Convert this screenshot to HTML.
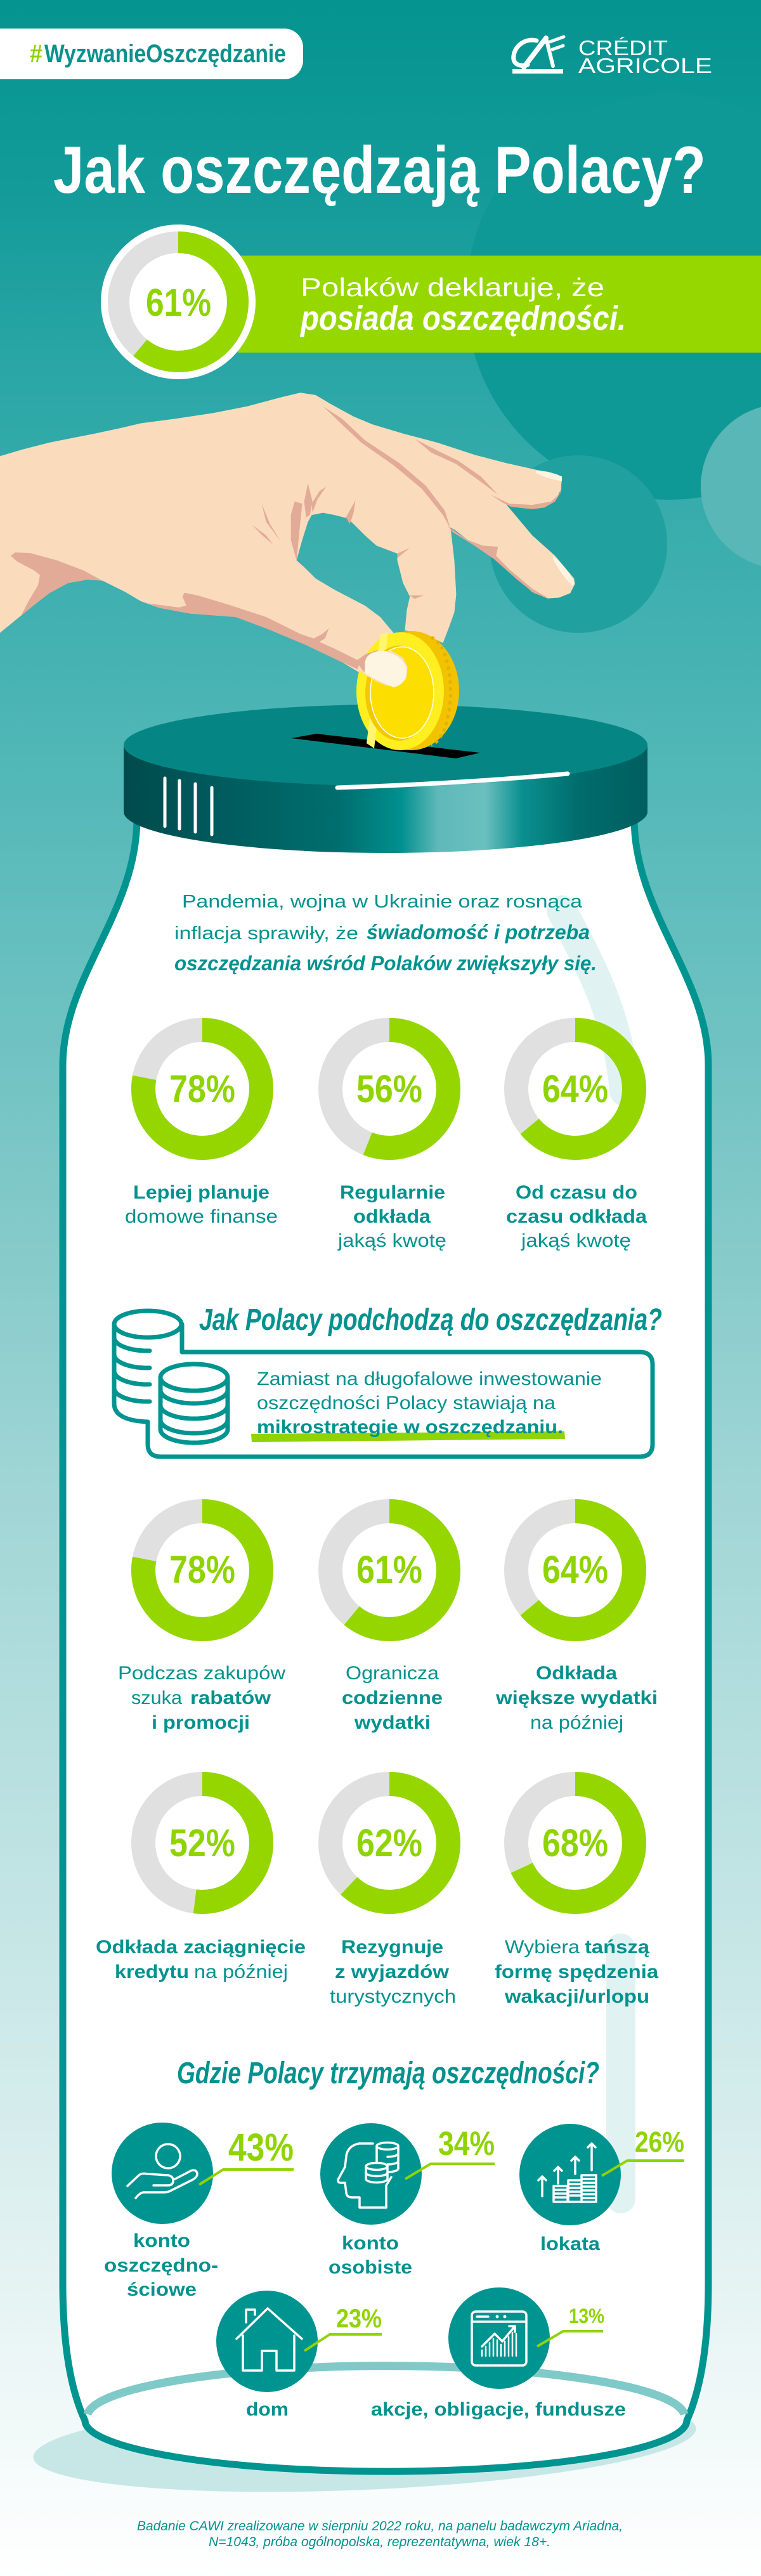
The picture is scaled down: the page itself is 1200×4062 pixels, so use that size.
<!DOCTYPE html>
<html><head><meta charset="utf-8"><style>html,body{margin:0;padding:0;background:#fff}svg{display:block}</style></head>
<body>
<svg width="1200" height="4062" viewBox="0 0 1200 4062" xmlns="http://www.w3.org/2000/svg" font-family="'Liberation Sans', Arial, sans-serif">
<defs>
<linearGradient id="bg" x1="0" y1="0" x2="0" y2="4062" gradientUnits="userSpaceOnUse">
<stop offset="0" stop-color="#059490"/><stop offset="0.074" stop-color="#139b99"/><stop offset="0.143" stop-color="#2aa6a6"/><stop offset="0.271" stop-color="#4ab4b4"/><stop offset="0.34" stop-color="#5ebcbc"/><stop offset="0.492" stop-color="#88cbcb"/><stop offset="0.581" stop-color="#a1d6d6"/><stop offset="0.775" stop-color="#cbe8e8"/><stop offset="0.886" stop-color="#e5f3f3"/><stop offset="1" stop-color="#ffffff"/>
</linearGradient>
<linearGradient id="lid" x1="195" y1="0" x2="1021" y2="0" gradientUnits="userSpaceOnUse">
<stop offset="0" stop-color="#004a4c"/><stop offset="0.17" stop-color="#005a5c"/><stop offset="0.41" stop-color="#006e6e"/><stop offset="0.53" stop-color="#00908e"/><stop offset="0.6" stop-color="#5fb9b9"/><stop offset="0.69" stop-color="#6bbfbf"/><stop offset="0.76" stop-color="#0a908f"/><stop offset="0.87" stop-color="#006c6c"/><stop offset="1" stop-color="#005e60"/>
</linearGradient>
</defs>
<rect width="1200" height="4062" fill="url(#bg)"/>
<circle cx="1055" cy="468" r="320" fill="#0e9896"/>
<circle cx="912" cy="858" r="140" fill="#20a1a0"/>
<circle cx="1235" cy="767" r="130" fill="#5ab7b7"/>
<rect x="-40" y="45" width="518" height="80" rx="30" fill="#fff"/>
<text x="47" y="98" font-size="40" font-weight="bold" fill="#8fd400" textLength="20" lengthAdjust="spacingAndGlyphs">#</text>
<text x="70" y="98" font-size="40" font-weight="bold" fill="#0c918d" textLength="381" lengthAdjust="spacingAndGlyphs">WyzwanieOszczędzanie</text>
<g fill="none" stroke="#fff" stroke-linecap="round">
<path d="M846,64 C828,60 812,72 810,88 C808,100 818,106 832,102" stroke-width="7"/>
<path d="M826,106 L861,60" stroke-width="8"/>
<path d="M861,60 L872,104" stroke-width="6"/>
<path d="M867,66 L889,58 M871,78 L888,72" stroke-width="5"/>
</g>
<rect x="808" y="109" width="80" height="7" fill="#fff"/>
<text x="912" y="87" font-size="33" fill="#fff" textLength="141" lengthAdjust="spacingAndGlyphs">CRÉDIT</text>
<text x="912" y="115" font-size="33" fill="#fff" textLength="211" lengthAdjust="spacingAndGlyphs">AGRICOLE</text>
<text x="84" y="304" font-size="105" font-weight="bold" fill="#fff" textLength="1029" lengthAdjust="spacingAndGlyphs">Jak oszczędzają Polacy?</text>
<rect x="375" y="403" width="825" height="153" fill="#97d700"/>
<circle cx="281" cy="476" r="122" fill="#fff"/>
<circle cx="281" cy="476" r="94" fill="none" stroke="#e0e0e0" stroke-width="34"/>
<circle cx="281" cy="476" r="94" fill="none" stroke="#97d700" stroke-width="34" stroke-dasharray="360.3 1000" transform="rotate(-90 281 476)"/>
<text x="230" y="498" font-size="61" font-weight="bold" fill="#8fd400" textLength="103" lengthAdjust="spacingAndGlyphs">61%</text>
<text x="474" y="467" font-size="41" fill="#fff" textLength="479" lengthAdjust="spacingAndGlyphs">Polaków deklaruje, że</text>
<text x="474" y="520" font-size="54" font-style="italic" font-weight="bold" fill="#fff" textLength="513" lengthAdjust="spacingAndGlyphs">posiada oszczędności.</text>
<g transform="translate(0,580) scale(0.5995,0.35714)">
<path fill="#FADCBD" d="M0,390 L60,360 L130,330 L250,290 L320,265 L370,245 L460,225 L560,200 L650,170 L740,130 L790,110 L830,120 L870,160 L930,215 L980,250 L1060,290 L1150,330 L1250,385 L1330,420 L1410,450 L1465,470 L1478,490 L1475,540 L1460,585 L1430,615 L1400,622 L1350,612 L1330,600 L1400,740 L1460,830 L1510,930 L1512,955 L1500,995 L1470,1015 L1440,1018 L1400,990 L1360,930 L1300,840 L1245,780 L1200,720 L1185,705 L1195,850 L1200,1000 L1195,1080 L1180,1150 L1165,1215 L1110,1170 L1065,1160 L1070,1070 L1078,1010 L1060,950 L1045,850 L1045,820 L990,785 L960,740 L930,690 L915,665 L880,650 L850,640 L820,650 L810,680 L795,760 L780,850 L800,880 L830,930 L880,980 L960,1050 L1000,1100 L1040,1180 L1060,1240 L1070,1300 L1065,1370 L1040,1405 L1020,1405 L990,1385 L950,1350 L900,1300 L800,1220 L700,1150 L620,1100 L500,1085 L420,1060 L370,1030 L330,990 L270,940 L230,935 L180,950 L130,990 L80,1060 L0,1170 Z"/>
<g fill="#E2AB97">
<path d="M28,830 L40,815 L80,818 L150,850 L220,895 L270,940 L230,935 L180,950 L130,995 L80,1060 L55,1095 L75,1030 L100,960 L105,915 L90,895 L45,855 Z"/>
<path d="M390,1040 L470,1058 L490,1050 L480,1010 L485,993 L520,1005 L600,1045 L700,1100 L790,1175 L825,1195 L848,1175 L865,1150 L855,1195 L840,1210 L880,1240 L940,1290 L965,1260 L995,1245 L985,1265 L960,1300 L958,1345 L900,1300 L800,1220 L700,1150 L620,1100 L500,1085 L420,1060 Z"/>
<path d="M1290,560 L1340,600 L1400,605 L1450,590 L1472,555 L1478,520 L1475,550 L1460,590 L1432,617 L1400,624 L1345,614 L1325,598 Z"/>
<path d="M1178,700 L1230,760 L1270,785 L1310,790 L1305,830 L1340,890 L1400,975 L1445,1020 L1405,995 L1360,935 L1300,845 L1245,782 L1190,725 Z"/>
<path d="M850,170 L900,225 L960,320 L1050,420 L1120,520 L1170,630 L1185,710 L1165,650 L1110,535 L1035,430 L950,330 L890,235 Z"/>
<path d="M1092,315 L1150,365 L1205,410 L1265,480 L1310,560 L1270,510 L1200,425 L1135,375 Z"/>
<path d="M810,510 L822,590 L815,650 L805,660 L800,590 Z M858,525 L835,580 L822,640 L820,600 L840,545 Z M688,598 L700,680 L740,770 L710,690 Z M662,692 L700,740 L718,780 L690,740 Z M775,590 L795,600 L790,680 L780,850 L765,760 L765,650 Z M935,585 L930,640 L920,690 L910,660 Z M1045,820 L1078,795 L1045,840 Z M1078,1005 L1115,1005 L1090,1020 Z"/>
</g>
<g fill="#FEF4E2">
<path d="M1410,455 Q1440,452 1478,480 L1478,500 Q1440,490 1410,465 Z"/>
<path d="M1455,830 Q1490,880 1512,950 L1505,962 Q1475,910 1455,845 Z"/>
</g>
</g>
<ellipse cx="575" cy="3852" rx="523" ry="74" fill="#c7e7e7" transform="rotate(-2.5 575 3852)"/>
<path d="M216,1290 C216,1440 99,1540 99,1680 L99,3600 C99,3700 112,3770 134,3817 A474,80 0 0 0 1083,3817 C1104,3770 1117,3700 1117,3600 L1117,1680 C1117,1540 1000,1440 1000,1290 Z" fill="#fff" stroke="#009490" stroke-width="11"/>
<path d="M138,3807 A471,80 0 0 1 1079,3807" fill="none" stroke="#80c9c9" stroke-width="13"/>
<path d="M886,1436 C930,1520 975,1600 985,1720" fill="none" stroke="#e0f2f2" stroke-width="48" stroke-linecap="round"/>
<rect x="956" y="3049" width="46" height="441" rx="23" fill="#e0f2f2"/>
<path d="M195,1175 L195,1280 A413,65 0 0 0 1021,1280 L1021,1175 Z" fill="url(#lid)"/>
<ellipse cx="608" cy="1175" rx="413" ry="64" fill="#058684"/>
<g stroke="#fff" stroke-width="5" stroke-linecap="round">
<line x1="260" y1="1227" x2="260" y2="1303"/><line x1="283" y1="1231" x2="283" y2="1307"/><line x1="308" y1="1236" x2="308" y2="1312"/><line x1="334" y1="1242" x2="334" y2="1316"/>
</g>
<path d="M532,1242 Q720,1236 895,1220" fill="none" stroke="#fff" stroke-width="7" stroke-linecap="round"/>
<polygon points="459,1164 499,1157 757,1187 719,1196" fill="#000"/>
<ellipse cx="648" cy="1089" rx="76" ry="94" fill="#F2C300"/>
<path d="M680,1005 A36,86 0 0 1 680,1175" fill="none" stroke="#E6B000" stroke-width="5" stroke-dasharray="5 6"/>
<ellipse cx="631" cy="1090" rx="69" ry="93" fill="#FFEE20"/>
<path d="M600,1000 L612,998 L590,1180 L578,1172 Z" fill="#FFF66E"/>
<ellipse cx="629" cy="1093" rx="53" ry="75" fill="#F4C800"/>
<ellipse cx="634" cy="1092" rx="50" ry="72" fill="#FCDF00" stroke="#fff" stroke-width="1.5"/>
<g transform="translate(0,580) scale(0.5995,0.35714)">
<path fill="#FADCBD" d="M940,1330 L950,1290 L990,1250 L1030,1250 L1060,1280 L1072,1320 L1068,1375 L1045,1405 L1020,1405 L990,1385 L960,1355 Z"/>
<path fill="#E2AB97" d="M938,1300 L965,1262 L995,1245 L985,1265 L962,1300 L958,1345 Z"/>
<path fill="#FEF4E2" d="M960,1300 Q965,1250 1010,1250 Q1060,1270 1070,1330 Q1070,1400 1035,1410 Q990,1380 960,1350 Z"/>
</g>
<g fill="#00928e">
<text x="287" y="1431" font-size="29" textLength="631" lengthAdjust="spacingAndGlyphs">Pandemia, wojna w Ukrainie oraz rosnąca</text>
<text x="275" y="1481" font-size="29" textLength="290" lengthAdjust="spacingAndGlyphs">inflacja sprawiły, że</text>
<text x="578" y="1481" font-size="32" font-style="italic" font-weight="bold" textLength="352" lengthAdjust="spacingAndGlyphs">świadomość i potrzeba</text>
<text x="275" y="1530" font-size="32" font-style="italic" font-weight="bold" textLength="666" lengthAdjust="spacingAndGlyphs">oszczędzania wśród Polaków zwiększyły się.</text>
</g>
<g fill="none" stroke-width="38">
<circle cx="319" cy="1717" r="93" stroke="#e0e0e0"/><circle cx="319" cy="1717" r="93" stroke="#95d600" stroke-dasharray="455.8 1000" transform="rotate(-90 319 1717)"/>
<circle cx="614" cy="1717" r="93" stroke="#e0e0e0"/><circle cx="614" cy="1717" r="93" stroke="#95d600" stroke-dasharray="327.2 1000" transform="rotate(-90 614 1717)"/>
<circle cx="907" cy="1717" r="93" stroke="#e0e0e0"/><circle cx="907" cy="1717" r="93" stroke="#95d600" stroke-dasharray="374 1000" transform="rotate(-90 907 1717)"/>
<circle cx="319" cy="2476" r="93" stroke="#e0e0e0"/><circle cx="319" cy="2476" r="93" stroke="#95d600" stroke-dasharray="455.8 1000" transform="rotate(-90 319 2476)"/>
<circle cx="614" cy="2476" r="93" stroke="#e0e0e0"/><circle cx="614" cy="2476" r="93" stroke="#95d600" stroke-dasharray="356.4 1000" transform="rotate(-90 614 2476)"/>
<circle cx="907" cy="2476" r="93" stroke="#e0e0e0"/><circle cx="907" cy="2476" r="93" stroke="#95d600" stroke-dasharray="374 1000" transform="rotate(-90 907 2476)"/>
<circle cx="319" cy="2906" r="93" stroke="#e0e0e0"/><circle cx="319" cy="2906" r="93" stroke="#95d600" stroke-dasharray="303.9 1000" transform="rotate(-90 319 2906)"/>
<circle cx="614" cy="2906" r="93" stroke="#e0e0e0"/><circle cx="614" cy="2906" r="93" stroke="#95d600" stroke-dasharray="362.3 1000" transform="rotate(-90 614 2906)"/>
<circle cx="907" cy="2906" r="93" stroke="#e0e0e0"/><circle cx="907" cy="2906" r="93" stroke="#95d600" stroke-dasharray="397.4 1000" transform="rotate(-90 907 2906)"/>
</g>
<g fill="#8fd400" font-size="61" font-weight="bold">
<text x="267" y="1738" textLength="104" lengthAdjust="spacingAndGlyphs">78%</text>
<text x="562" y="1738" textLength="104" lengthAdjust="spacingAndGlyphs">56%</text>
<text x="855" y="1738" textLength="104" lengthAdjust="spacingAndGlyphs">64%</text>
<text x="267" y="2496" textLength="104" lengthAdjust="spacingAndGlyphs">78%</text>
<text x="562" y="2496" textLength="104" lengthAdjust="spacingAndGlyphs">61%</text>
<text x="855" y="2496" textLength="104" lengthAdjust="spacingAndGlyphs">64%</text>
<text x="267" y="2927" textLength="104" lengthAdjust="spacingAndGlyphs">52%</text>
<text x="562" y="2927" textLength="104" lengthAdjust="spacingAndGlyphs">62%</text>
<text x="855" y="2927" textLength="104" lengthAdjust="spacingAndGlyphs">68%</text>
</g>
<g fill="#00928e" font-size="30">
<text x="210" y="1890" font-weight="bold" textLength="215" lengthAdjust="spacingAndGlyphs">Lepiej planuje</text>
<text x="197" y="1928" textLength="241" lengthAdjust="spacingAndGlyphs">domowe finanse</text>
<text x="536" y="1890" font-weight="bold" textLength="166" lengthAdjust="spacingAndGlyphs">Regularnie</text>
<text x="557" y="1928" font-weight="bold" textLength="122" lengthAdjust="spacingAndGlyphs">odkłada</text>
<text x="533" y="1966" textLength="171" lengthAdjust="spacingAndGlyphs">jakąś kwotę</text>
<text x="813" y="1890" font-weight="bold" textLength="192" lengthAdjust="spacingAndGlyphs">Od czasu do</text>
<text x="798" y="1928" font-weight="bold" textLength="222" lengthAdjust="spacingAndGlyphs">czasu odkłada</text>
<text x="822" y="1966" textLength="173" lengthAdjust="spacingAndGlyphs">jakąś kwotę</text>
<text x="186" y="2648" textLength="264" lengthAdjust="spacingAndGlyphs">Podczas zakupów</text>
<text x="207" y="2687" textLength="80" lengthAdjust="spacingAndGlyphs">szuka</text>
<text x="300" y="2687" font-weight="bold" textLength="127" lengthAdjust="spacingAndGlyphs">rabatów</text>
<text x="239" y="2726" font-weight="bold" textLength="155" lengthAdjust="spacingAndGlyphs">i promocji</text>
<text x="545" y="2648" textLength="147" lengthAdjust="spacingAndGlyphs">Ogranicza</text>
<text x="539" y="2687" font-weight="bold" textLength="159" lengthAdjust="spacingAndGlyphs">codzienne</text>
<text x="559" y="2726" font-weight="bold" textLength="120" lengthAdjust="spacingAndGlyphs">wydatki</text>
<text x="845" y="2648" font-weight="bold" textLength="128" lengthAdjust="spacingAndGlyphs">Odkłada</text>
<text x="782" y="2687" font-weight="bold" textLength="255" lengthAdjust="spacingAndGlyphs">większe wydatki</text>
<text x="836" y="2726" textLength="147" lengthAdjust="spacingAndGlyphs">na później</text>
<text x="151" y="3080" font-weight="bold" textLength="331" lengthAdjust="spacingAndGlyphs">Odkłada zaciągnięcie</text>
<text x="181" y="3119" font-weight="bold" textLength="117" lengthAdjust="spacingAndGlyphs">kredytu</text>
<text x="306" y="3119" textLength="148" lengthAdjust="spacingAndGlyphs">na później</text>
<text x="538" y="3080" font-weight="bold" textLength="161" lengthAdjust="spacingAndGlyphs">Rezygnuje</text>
<text x="528" y="3119" font-weight="bold" textLength="180" lengthAdjust="spacingAndGlyphs">z wyjazdów</text>
<text x="520" y="3158" textLength="199" lengthAdjust="spacingAndGlyphs">turystycznych</text>
<text x="796" y="3080" textLength="118" lengthAdjust="spacingAndGlyphs">Wybiera</text>
<text x="922" y="3080" font-weight="bold" textLength="102" lengthAdjust="spacingAndGlyphs">tańszą</text>
<text x="780" y="3119" font-weight="bold" textLength="258" lengthAdjust="spacingAndGlyphs">formę spędzenia</text>
<text x="796" y="3158" font-weight="bold" textLength="228" lengthAdjust="spacingAndGlyphs">wakacji/urlopu</text>
</g>
<text x="314" y="2097" font-size="48" font-style="italic" font-weight="bold" fill="#00928e" textLength="730" lengthAdjust="spacingAndGlyphs">Jak Polacy podchodzą do oszczędzania?</text>
<g fill="none" stroke="#009490" stroke-width="7" stroke-linecap="round">
<path d="M287,2132 L1009,2132 Q1029,2132 1029,2152 L1029,2277 Q1029,2297 1009,2297 L253,2297 Q233,2297 233,2277 L233,2242"/>
<path d="M287,2088 L287,2132"/>
<path d="M180,2088 L180,2215 Q182,2240 233,2242"/>
<ellipse cx="233" cy="2088" rx="53" ry="21"/>
<path d="M180,2109 A53,21 0 0 0 236,2130 M180,2136 A53,21 0 0 0 236,2157 M180,2162 A53,21 0 0 0 236,2183 M180,2189 A53,21 0 0 0 236,2210"/>
<path d="M253,2172 L253,2254 A53,21 0 0 0 359,2254 L359,2172" fill="#fff"/>
<ellipse cx="306" cy="2172" rx="53" ry="21" fill="#fff"/>
<path d="M253,2192 A53,21 0 0 0 359,2192 M253,2216 A53,21 0 0 0 359,2216 M253,2239 A53,21 0 0 0 359,2239"/>
</g>
<polygon points="396,2261 890,2257 891,2269 397,2274" fill="#8fd400"/>
<g fill="#00928e" font-size="30">
<text x="405" y="2184" textLength="544" lengthAdjust="spacingAndGlyphs">Zamiast na długofalowe inwestowanie</text>
<text x="405" y="2222" textLength="471" lengthAdjust="spacingAndGlyphs">oszczędności Polacy stawiają na</text>
<text x="405" y="2260" font-weight="bold" textLength="483" lengthAdjust="spacingAndGlyphs">mikrostrategie w oszczędzaniu.</text>
</g>
<text x="279" y="3285" font-size="48" font-style="italic" font-weight="bold" fill="#00928e" textLength="666" lengthAdjust="spacingAndGlyphs">Gdzie Polacy trzymają oszczędności?</text>
<g fill="#009491">
<circle cx="256" cy="3427" r="80"/><circle cx="585" cy="3428" r="80"/><circle cx="899" cy="3429" r="80"/><circle cx="421" cy="3692" r="80"/><circle cx="787" cy="3687" r="80"/>
</g>
<g fill="none" stroke="#fff" stroke-width="3.5" stroke-linecap="round" stroke-linejoin="round">
<circle cx="265" cy="3400" r="19"/>
<path d="M201,3447 L219,3430 Q224,3426 232,3428 L265,3430 Q274,3432 273,3440 Q272,3446 265,3446 L242,3446 M276,3436 L301,3423 Q310,3420 311,3428 Q311,3433 304,3437 L268,3455 Q264,3457 258,3457 L226,3457 Q220,3458 214,3466"/>
<path d="M588,3380 L566,3380 Q548,3384 546,3400 L544,3417 L533,3437 Q532,3442 538,3442 L544,3442 L546,3458 Q547,3465 555,3465 L567,3465 L567,3481 L609,3481 L609,3446 L617,3433"/>
<ellipse cx="611" cy="3384" rx="17" ry="5.5" fill="#009491"/>
<path d="M594,3384 L594,3420 M628,3384 L628,3420 A17,5.5 0 0 1 611,3425 M628,3396 A17,5.5 0 0 1 611,3401 M628,3408 A17,5.5 0 0 1 611,3413" />
<path d="M577,3416 L577,3436 A17,5.5 0 0 0 611,3436 L611,3416" fill="#009491"/>
<ellipse cx="594" cy="3416" rx="17" ry="5.5" fill="#009491"/>
<path d="M577,3426 A17,5.5 0 0 0 611,3426"/>
<path d="M855,3463 L855,3432 M849,3438 L855,3432 L861,3438 M880,3443 L880,3417 M874,3423 L880,3417 L886,3423 M907,3428 L907,3401 M901,3407 L907,3401 L913,3407 M933,3422 L933,3380 M927,3386 L933,3380 L939,3386"/>
<path d="M873,3447 L873,3472 L895,3472 L895,3447 Z M873,3453 L895,3453 M873,3459 L895,3459 M873,3465 L895,3465" fill="#009491"/>
<path d="M896,3438 L896,3472 L918,3472 L918,3438 Z M896,3444 L918,3444 M896,3450 L918,3450 M896,3456 L918,3456 M896,3462 L918,3462" fill="#009491"/>
<path d="M917,3430 L917,3472 L940,3472 L940,3430 Z M917,3436 L940,3436 M917,3442 L940,3442 M917,3448 L940,3448 M917,3454 L940,3454 M917,3460 L940,3460 M917,3466 L940,3466" fill="#009491"/>
<path d="M373,3688 L422,3640 L476,3688 M383,3683 L383,3738 L413,3738 L413,3707 L436,3707 L436,3738 L464,3738 L464,3683 M388,3662 L388,3642 L402,3642 L402,3650"/>
<rect x="744" y="3645" width="86" height="85" rx="6"/>
<path d="M744,3661 L830,3661 M752,3653 L770,3653 M760,3700 L780,3680 L792,3692 L812,3668 M803,3668 L812,3668 L812,3677"/>
<path d="M760,3706 L760,3715 M766,3700 L766,3715 M772,3694 L772,3715 M778,3688 L778,3715 M784,3690 L784,3715 M790,3697 L790,3715 M796,3692 L796,3715 M802,3685 L802,3715 M808,3678 L808,3715 M814,3680 L814,3715" stroke-width="2.5"/>
</g>
<circle cx="784" cy="3653" r="2.5" fill="#fff"/><circle cx="796" cy="3653" r="2.5" fill="#fff"/>
<g fill="none" stroke="#8fd400" stroke-width="4">
<path d="M314,3445 L352,3421 L463,3421"/>
<path d="M639,3436 L679,3412 L780,3412"/>
<path d="M949,3431 L989,3407 L1079,3407"/>
<path d="M480,3707 L520,3681 L602,3681"/>
<path d="M847,3700 L888,3676 L951,3676"/>
</g>
<g fill="#8fd400" font-weight="bold">
<text x="360" y="3407" font-size="61" textLength="103" lengthAdjust="spacingAndGlyphs">43%</text>
<text x="691" y="3398" font-size="53" textLength="89" lengthAdjust="spacingAndGlyphs">34%</text>
<text x="1001" y="3393" font-size="45" textLength="78" lengthAdjust="spacingAndGlyphs">26%</text>
<text x="530" y="3670" font-size="42" textLength="72" lengthAdjust="spacingAndGlyphs">23%</text>
<text x="897" y="3663" font-size="32" textLength="56" lengthAdjust="spacingAndGlyphs">13%</text>
</g>
<g fill="#00928e" font-size="30" font-weight="bold">
<text x="210" y="3543" textLength="90" lengthAdjust="spacingAndGlyphs">konto</text>
<text x="164" y="3582" textLength="180" lengthAdjust="spacingAndGlyphs">oszczędno-</text>
<text x="200" y="3620" textLength="110" lengthAdjust="spacingAndGlyphs">ściowe</text>
<text x="539" y="3547" textLength="90" lengthAdjust="spacingAndGlyphs">konto</text>
<text x="518" y="3585" textLength="132" lengthAdjust="spacingAndGlyphs">osobiste</text>
<text x="852" y="3548" textLength="94" lengthAdjust="spacingAndGlyphs">lokata</text>
<text x="388" y="3809" textLength="67" lengthAdjust="spacingAndGlyphs">dom</text>
<text x="585" y="3809" textLength="402" lengthAdjust="spacingAndGlyphs">akcje, obligacje, fundusze</text>
</g>
<g fill="#00928e" font-size="21" font-style="italic">
<text x="216" y="3990" textLength="766" lengthAdjust="spacingAndGlyphs">Badanie CAWI zrealizowane w sierpniu 2022 roku, na panelu badawczym Ariadna,</text>
<text x="329" y="4015" textLength="539" lengthAdjust="spacingAndGlyphs">N=1043, próba ogólnopolska, reprezentatywna, wiek 18+.</text>
</g>
</svg>
</body></html>
